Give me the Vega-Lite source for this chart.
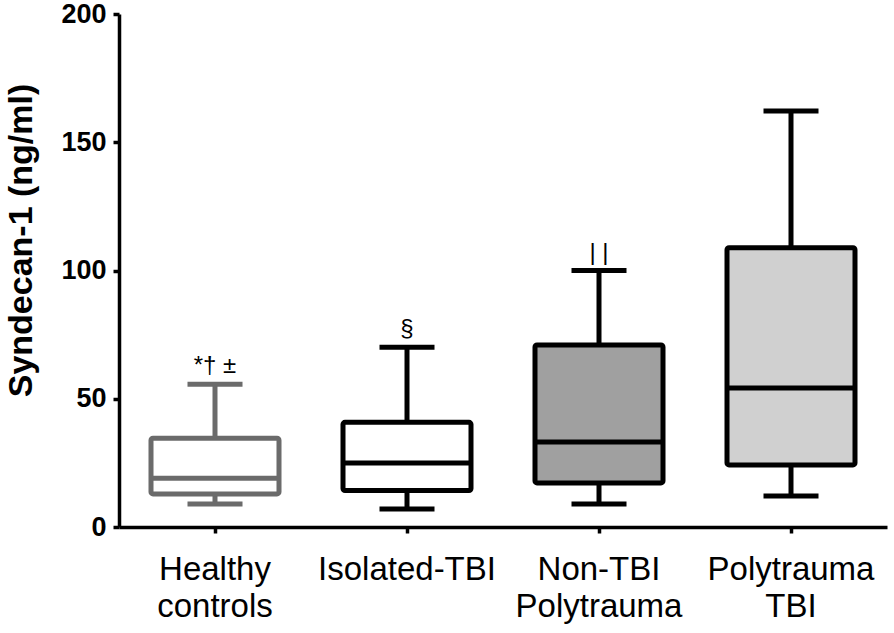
{
  "$schema": "https://vega.github.io/schema/vega-lite/v6.json",
  "width": 768,
  "height": 513,
  "autosize": {"type": "none"},
  "padding": {"left": 119, "top": 14, "right": 7, "bottom": 106},
  "background": "white",
  "config": {
    "view": {"stroke": null},
    "font": "Liberation Sans",
    "axis": {
      "domainColor": "black",
      "domainWidth": 3.5,
      "tickColor": "black",
      "tickWidth": 3.5,
      "tickSize": 6,
      "labelColor": "black",
      "titleColor": "black",
      "grid": false
    },
    "axisX": {
      "labelFontSize": 33,
      "labelPadding": 20,
      "labelAngle": 0,
      "labelLineHeight": 37,
      "labelBaseline": "top",
      "labelLimit": 0
    },
    "axisY": {
      "labelFontSize": 27,
      "labelFontWeight": "bold",
      "labelPadding": 7,
      "titleFontSize": 34,
      "titleFontWeight": "bold",
      "titlePadding": 22,
      "titleY": 226
    }
  },
  "data": {
    "values": [
      {"group": "Healthy controls", "min": 9.0, "q1": 12.9, "median": 19.0, "q3": 34.6, "max": 55.7, "note": "*† ±"},
      {"group": "Isolated-TBI", "min": 7.0, "q1": 14.2, "median": 25.0, "q3": 40.8, "max": 70.1, "note": "§"},
      {"group": "Non-TBI Polytrauma", "min": 9.0, "q1": 17.2, "median": 33.1, "q3": 71.0, "max": 100.0, "note": "| |"},
      {"group": "Polytrauma TBI", "min": 12.1, "q1": 24.2, "median": 54.2, "q3": 108.9, "max": 162.2, "note": ""}
    ]
  },
  "encoding": {
    "x": {
      "field": "group",
      "type": "nominal",
      "sort": null,
      "scale": {"paddingInner": 0, "paddingOuter": 0},
      "axis": {"title": null, "labelExpr": "split(datum.label, ' ')"}
    }
  },
  "layer": [
    {
      "mark": {"type": "rule", "strokeWidth": 5},
      "encoding": {
        "y": {
          "field": "min",
          "type": "quantitative",
          "title": "Syndecan-1 (ng/ml)",
          "scale": {"domain": [0, 200], "nice": false, "zero": true},
          "axis": {"values": [0, 50, 100, 150, 200]}
        },
        "y2": {"field": "q1"},
        "color": {
          "field": "group",
          "type": "nominal",
          "scale": {
            "domain": ["Healthy controls", "Isolated-TBI", "Non-TBI Polytrauma", "Polytrauma TBI"],
            "range": ["#6b6b6b", "#000000", "#000000", "#000000"]
          },
          "legend": null
        }
      }
    },
    {
      "mark": {"type": "rule", "strokeWidth": 5},
      "encoding": {
        "y": {"field": "q3", "type": "quantitative", "title": "Syndecan-1 (ng/ml)"},
        "y2": {"field": "max"},
        "color": {"field": "group", "type": "nominal", "legend": null}
      }
    },
    {
      "mark": {"type": "tick", "size": 55, "thickness": 5, "opacity": 1},
      "encoding": {
        "y": {"field": "min", "type": "quantitative", "title": "Syndecan-1 (ng/ml)"},
        "color": {"field": "group", "type": "nominal", "legend": null}
      }
    },
    {
      "mark": {"type": "tick", "size": 55, "thickness": 5, "opacity": 1},
      "encoding": {
        "y": {"field": "max", "type": "quantitative", "title": "Syndecan-1 (ng/ml)"},
        "color": {"field": "group", "type": "nominal", "legend": null}
      }
    },
    {
      "mark": {"type": "bar", "size": 128, "strokeWidth": 5, "cornerRadius": 2},
      "encoding": {
        "y": {"field": "q1", "type": "quantitative", "title": "Syndecan-1 (ng/ml)"},
        "y2": {"field": "q3"},
        "fill": {
          "field": "group",
          "type": "nominal",
          "scale": {
            "domain": ["Healthy controls", "Isolated-TBI", "Non-TBI Polytrauma", "Polytrauma TBI"],
            "range": ["#ffffff", "#ffffff", "#a0a0a0", "#d0d0d0"]
          },
          "legend": null
        },
        "stroke": {
          "field": "group",
          "type": "nominal",
          "scale": {
            "domain": ["Healthy controls", "Isolated-TBI", "Non-TBI Polytrauma", "Polytrauma TBI"],
            "range": ["#6b6b6b", "#000000", "#000000", "#000000"]
          },
          "legend": null
        }
      }
    },
    {
      "mark": {"type": "tick", "size": 128, "thickness": 5, "opacity": 1},
      "encoding": {
        "y": {"field": "median", "type": "quantitative", "title": "Syndecan-1 (ng/ml)"},
        "color": {"field": "group", "type": "nominal", "legend": null}
      }
    },
    {
      "mark": {"type": "text", "fontSize": 24, "dy": -11, "baseline": "alphabetic", "align": "center", "color": "black"},
      "encoding": {
        "y": {"field": "max", "type": "quantitative", "title": "Syndecan-1 (ng/ml)"},
        "text": {"field": "note"}
      }
    }
  ]
}
